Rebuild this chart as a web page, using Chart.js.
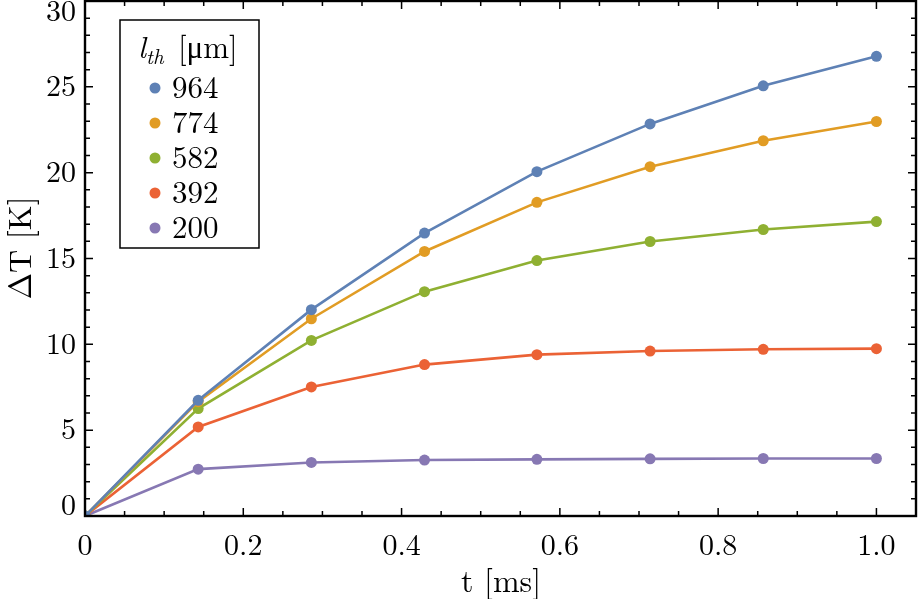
<!DOCTYPE html>
<html>
<head>
<meta charset="utf-8">
<script src="https://cdn.jsdelivr.net/npm/chart.js@4.4.0/dist/chart.umd.min.js"></script>
<style>
  body { margin: 0; background: #fff; }
  canvas { display: block; }
</style>
</head>
<body>
<canvas id="tempChart" width="918" height="599"></canvas>
<script>
    // Time samples (ms) and temperature rise (K) for each thermal length
    const times = [0, 0.143, 0.286, 0.429, 0.571, 0.714, 0.857, 1.0];
    const lengths = ['964', '774', '582', '392', '200'];
    const dT964 = [0, 6.74, 12.02, 16.48, 20.06, 22.84, 25.06, 26.78];
    const dT774 = [0, 6.66, 11.49, 15.41, 18.27, 20.35, 21.86, 22.98];
    const dT582 = [0, 6.26, 10.23, 13.07, 14.88, 15.99, 16.69, 17.15];
    const dT392 = [0, 5.19, 7.52, 8.82, 9.40, 9.61, 9.71, 9.75];
    const dT200 = [0, 2.73, 3.12, 3.26, 3.30, 3.33, 3.35, 3.35];
    const colors = ['#5e81b5', '#e19c24', '#8fb032', '#eb6235', '#8778b3'];

    const xTicks = [0, 0.2, 0.4, 0.6, 0.8, 1.0];
    const xTickLabels = ['0', '0.2', '0.4', '0.6', '0.8', '1.0'];
    const yTicks = [0, 5, 10, 15, 20, 25, 30];
    const yTickLabels = ['0', '5', '10', '15', '20', '25', '30'];

    const fam = '"Latin Modern Roman"';

    const series = [dT964, dT774, dT582, dT392, dT200];
    const datasets = series.map((vals, i) => ({
        label: lengths[i],
        data: vals.map((v, j) => ({ x: times[j], y: v })),
        borderColor: colors[i],
        backgroundColor: colors[i],
        borderWidth: 2.6,
        pointRadius: 5.5,
        pointBorderWidth: 0,
        tension: 0,
    }));

    // Mathematica-like frame with inward ticks on all four sides, plus axis titles
    const framePlugin = {
        id: 'frame',
        afterDraw(chart) {
            const { ctx, chartArea: a, scales: { x, y } } = chart;
            ctx.save();
            ctx.strokeStyle = '#000';
            ctx.lineWidth = 2.4;
            ctx.strokeRect(a.left, a.top, a.right - a.left, a.bottom - a.top);

            ctx.lineWidth = 1.5;
            ctx.beginPath();
            for (let k = 0; k <= 21; k++) {
                const px = x.getPixelForValue(k * 0.05);
                const len = k % 4 === 0 ? 8 : 5;
                ctx.moveTo(px, a.bottom); ctx.lineTo(px, a.bottom - len);
                ctx.moveTo(px, a.top); ctx.lineTo(px, a.top + len);
            }
            for (let k = 0; k <= 30; k++) {
                const py = y.getPixelForValue(k);
                const len = k % 5 === 0 ? 8 : 5;
                ctx.moveTo(a.left, py); ctx.lineTo(a.left + len, py);
                ctx.moveTo(a.right, py); ctx.lineTo(a.right - len, py);
            }
            ctx.stroke();

            // axis titles
            ctx.fillStyle = '#000';
            ctx.font = '32px ' + fam;
            ctx.textAlign = 'center';
            ctx.textBaseline = 'alphabetic';
            ctx.fillText('t [ms]', 501, 592);
            ctx.translate(31, 248);
            ctx.rotate(-Math.PI / 2);
            ctx.fillText('ΔT [K]', 0, 0);
            ctx.restore();
        }
    };

    // Boxed legend in the top-left corner of the plot
    const legendPlugin = {
        id: 'boxLegend',
        afterDraw(chart) {
            const { ctx } = chart;
            ctx.save();
            ctx.fillStyle = '#fff';
            ctx.fillRect(120, 20, 139, 228);
            ctx.strokeStyle = '#000';
            ctx.lineWidth = 1.5;
            ctx.strokeRect(120, 20, 139, 228);

            ctx.fillStyle = '#000';
            ctx.textBaseline = 'alphabetic';
            ctx.textAlign = 'left';
            ctx.font = 'italic 31px ' + fam;
            ctx.fillText('l', 138, 58);
            ctx.font = 'italic 21px ' + fam;
            ctx.fillText('th', 146, 64);
            ctx.font = '31px ' + fam;
            ctx.fillText('[μm]', 178, 58);

            ctx.textBaseline = 'middle';
            chart.data.datasets.forEach((ds, i) => {
                const ry = 88 + i * 35;
                ctx.fillStyle = ds.borderColor;
                ctx.beginPath();
                ctx.arc(155, ry, 5.5, 0, Math.PI * 2);
                ctx.fill();
                ctx.fillStyle = '#000';
                ctx.fillText(ds.label, 172, ry + 1);
            });
            ctx.restore();
        }
    };

    function drawChart() {
        const ctx = document.getElementById('tempChart').getContext('2d');

        new Chart(ctx, {
            type: 'line',
            data: { datasets },
            options: {
                responsive: false,
                animation: false,
                layout: { autoPadding: false, padding: { top: 1, right: 2, left: 0, bottom: 0 } },
                plugins: {
                    legend: { display: false },
                    tooltip: { enabled: false }
                },
                scales: {
                    x: {
                        type: 'linear',
                        min: 0,
                        max: 1.05,
                        afterBuildTicks: s => { s.ticks = xTicks.map(v => ({ value: v })); },
                        afterFit: s => { s.height = 83; s.paddingLeft = 0; s.paddingRight = 0; },
                        grid: { display: false, drawTicks: false },
                        border: { display: false },
                        ticks: {
                            padding: 12,
                            color: '#000',
                            font: { family: fam, size: 30 },
                            maxRotation: 0,
                            callback: (v, i) => xTickLabels[i]
                        }
                    },
                    y: {
                        type: 'linear',
                        min: 0,
                        max: 30,
                        afterBuildTicks: s => { s.ticks = yTicks.map(v => ({ value: v })); },
                        afterFit: s => { s.width = 85; s.paddingTop = 0; s.paddingBottom = 0; },
                        grid: { display: false, drawTicks: false },
                        border: { display: false },
                        ticks: {
                            padding: 9,
                            color: '#000',
                            font: { family: fam, size: 30, lineHeight: 0.7 },
                            // nudge the end labels inward, as in the original figure
                            callback: (v, i) => {
                                const t = yTickLabels[i];
                                if (i === 0) return [t, ''];
                                if (i === yTickLabels.length - 1) return ['', t];
                                return t;
                            }
                        }
                    }
                }
            },
            plugins: [framePlugin, legendPlugin]
        });
    }

    Promise.all([
        document.fonts.load('30px "Latin Modern Roman"'),
        document.fonts.load('italic 30px "Latin Modern Roman"')
    ]).catch(() => {}).then(drawChart);
</script>
</body>
</html>
